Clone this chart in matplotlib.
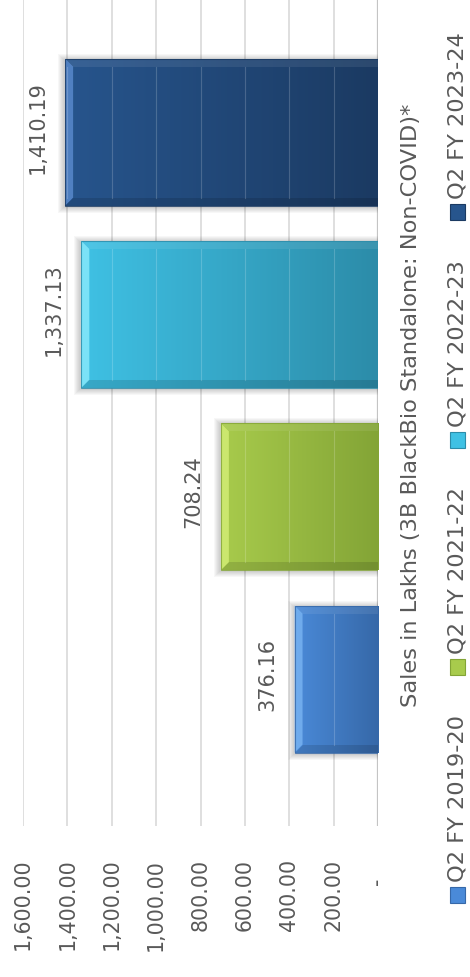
import matplotlib
matplotlib.use("Agg")
import matplotlib.pyplot as plt
import numpy as np
from matplotlib.colors import LinearSegmentedColormap
from matplotlib.patches import Polygon, Rectangle

# data
periods = ["Q2 FY 2019-20", "Q2 FY 2021-22", "Q2 FY 2022-23", "Q2 FY 2023-24"]
sales = [376.16, 708.24, 1337.13, 1410.19]
ticks = [0, 200, 400, 600, 800, 1000, 1200, 1400, 1600]
tick_labels = ["-   ", "200.00", "400.00", "600.00", "800.00",
               "1,000.00", "1,200.00", "1,400.00", "1,600.00"]
axis_title = "Sales in Lakhs (3B BlackBio Standalone: Non-COVID)*"

# light end, dark base, bevel highlight
bar_colors = [("#4a8ad8", "#3668a8", "#7db8f5"),
              ("#a8cb4c", "#83a436", "#d8f27a"),
              ("#3fc1e4", "#2c8ca9", "#90eefe"),
              ("#27558d", "#1b3a62", "#5f8fd4")]

text_col = "#595959"
W, H = 470, 977
fig = plt.figure(figsize=(W / 100, H / 100), dpi=100)
fig.patch.set_facecolor("white")

# axes box in pixels (from top-left)
ax_l, ax_r, ax_t, ax_b = 23, 378, 0, 826
ax = fig.add_axes([ax_l / W, 1 - ax_b / H, (ax_r - ax_l) / W, (ax_b - ax_t) / H])

xmin, xmax = 0, 1600
ylo, yhi = -0.806, 3.725
bh = 0.806
px_x = (xmax - xmin) / (ax_r - ax_l)   # data units per pixel
px_y = (yhi - ylo) / (ax_b - ax_t)

for t in ticks[1:]:
    ax.axvline(t, color="#d9d9d9", lw=1.2, zorder=0)
ax.axvline(0, color="#c4c4c4", lw=1.6, zorder=0)

grad = np.linspace(0, 1, 256).reshape(1, -1)
for i, v in enumerate(sales):
    light, dark, edge = bar_colors[i]
    y0, y1 = i - bh / 2, i + bh / 2
    # soft shadow
    for k in range(1, 7):
        ax.add_patch(Rectangle((-1 * px_x, y0 - (k + 1) * px_y), v + (k + 2) * px_x,
                               bh + (2 * k) * px_y, facecolor="black",
                               edgecolor="none", alpha=0.03, zorder=1))
    cmap = LinearSegmentedColormap.from_list("b%d" % i, [light, dark])
    ax.imshow(grad, extent=(v, 0, y0, y1), aspect="auto", cmap=cmap,
              interpolation="bilinear", zorder=2)
    bx, by = 8 * px_x, 8 * px_y
    # bevels
    ax.add_patch(Polygon([(v, y0), (v, y1), (v - bx, y1 - by), (v - bx, y0 + by)],
                         closed=True, facecolor=edge, edgecolor="none", alpha=0.75, zorder=3))
    ax.add_patch(Polygon([(v, y1), (0, y1), (0, y1 - by), (v - bx, y1 - by)],
                         closed=True, facecolor="white", edgecolor="none", alpha=0.08, zorder=3))
    ax.add_patch(Polygon([(v, y0), (0, y0), (0, y0 + by), (v - bx, y0 + by)],
                         closed=True, facecolor="black", edgecolor="none", alpha=0.12, zorder=3))
    ax.add_patch(Rectangle((0, y0), v, bh, facecolor="none", edgecolor=dark,
                           lw=0.8, alpha=0.8, zorder=4))
    # faint grid through bar
    for t in ticks[1:]:
        if t < v:
            ax.plot([t, t], [y0 + by, y1 - by], color="white", lw=0.8, alpha=0.18, zorder=4)
    ax.annotate(f"{v:,.2f}", xy=(v, i), xytext=(-12.5, 3.5), textcoords="offset points",
                ha="right", va="center", rotation=90, fontsize=15, color=text_col)

ax.set_xlim(xmax, xmin)
ax.set_ylim(ylo, yhi)
ax.set_xticks(ticks)
ax.set_xticklabels(tick_labels)
ax.tick_params(axis="x", length=0, pad=23.5, labelrotation=90, labelsize=14.8,
               labelcolor=text_col)
ax.set_yticks([])
for s in ax.spines.values():
    s.set_visible(False)

fig.text(411 / W, 1 - 405 / H, axis_title, rotation=90, ha="center", va="center",
         fontsize=16.2, color=text_col)

# legend drawn by hand, rotated
for i, name in enumerate(periods):
    light, dark, edge = bar_colors[i]
    my = 895 - i * 227.7
    fig.patches.append(Rectangle((450 / W, 1 - (my + 8) / H), 15 / W, 16 / H,
                                 transform=fig.transFigure, facecolor=light,
                                 edgecolor=dark, lw=0.8))
    fig.text(458 / W, 1 - (my - 13) / H, name, rotation=90, ha="center", va="bottom",
             fontsize=16.2, color=text_col)

fig.savefig("out.png", dpi=100)
